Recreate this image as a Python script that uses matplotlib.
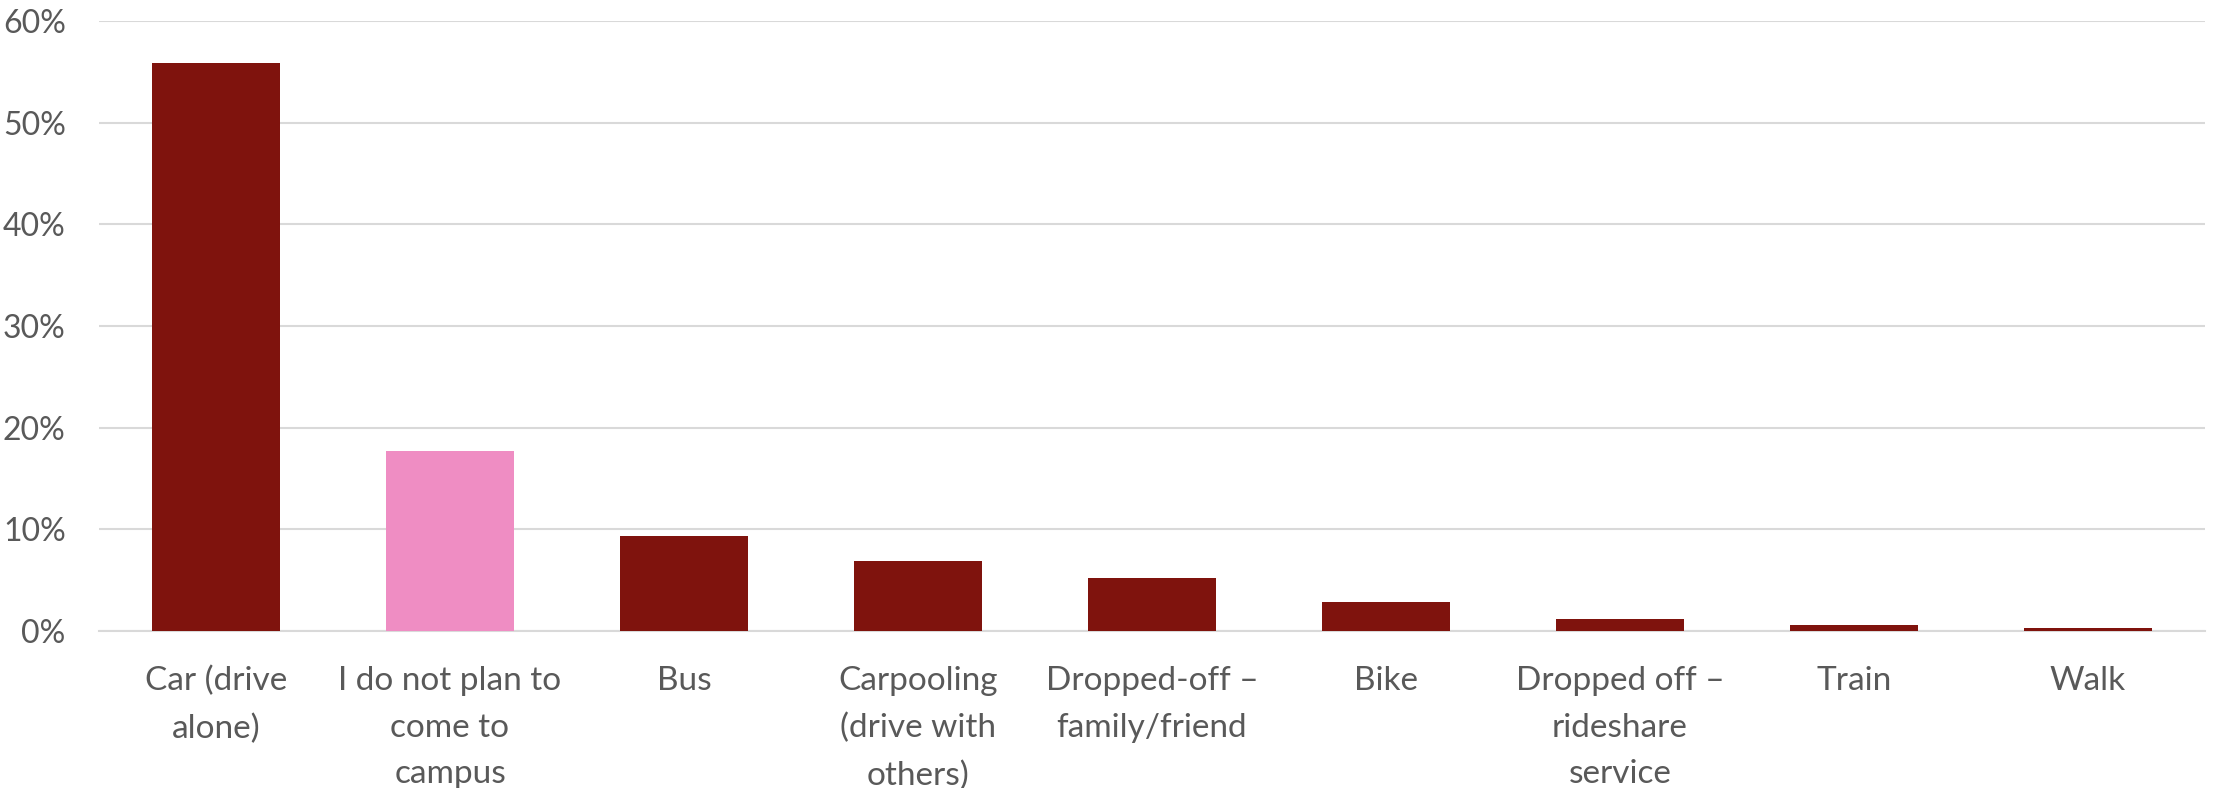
import matplotlib.pyplot as plt
from matplotlib.ticker import PercentFormatter

# commute mode shares
modes = ["Car (drive\nalone)", "I do not plan to\ncome to\ncampus", "Bus",
         "Carpooling\n(drive with\nothers)", "Dropped-off –\nfamily/friend", "Bike",
         "Dropped off –\nrideshare\nservice", "Train", "Walk"]
shares = [55.9, 17.7, 9.3, 6.9, 5.2, 2.9, 1.2, 0.6, 0.3]
highlight = "I do not plan to\ncome to\ncampus"

dark_red = "#7F130D"
pink = "#EF8DC3"
text_grey = "#595959"

plt.rcParams['font.family'] = ['Lato', 'DejaVu Sans']

fig = plt.figure(figsize=(22.24, 7.88), dpi=100)
ax = fig.add_axes([99 / 2224, 1 - 631 / 788, (2205 - 99) / 2224, (631 - 21) / 788])

colors = [pink if m == highlight else dark_red for m in modes]
ax.bar(range(len(modes)), shares, width=0.55, color=colors, zorder=3)

ax.set_xlim(-0.5, len(modes) - 0.5)
ax.set_ylim(0, 60)
ax.set_yticks(range(0, 61, 10))
ax.yaxis.set_major_formatter(PercentFormatter(decimals=0))
ax.set_xticks(range(len(modes)))
ax.set_xticklabels(modes, linespacing=1.7)

ax.grid(axis="y", color="#d9d9d9", linewidth=1.5, zorder=0)
for side in ["top", "right", "left"]:
    ax.spines[side].set_visible(False)
ax.spines["bottom"].set_color("#d9d9d9")
ax.spines["bottom"].set_linewidth(1.5)

ax.tick_params(axis="x", length=0, labelsize=24, labelcolor=text_grey, pad=25)
ax.tick_params(axis="y", length=0, labelsize=23, labelcolor=text_grey, pad=24)

fig.savefig("out.png", dpi=100)
